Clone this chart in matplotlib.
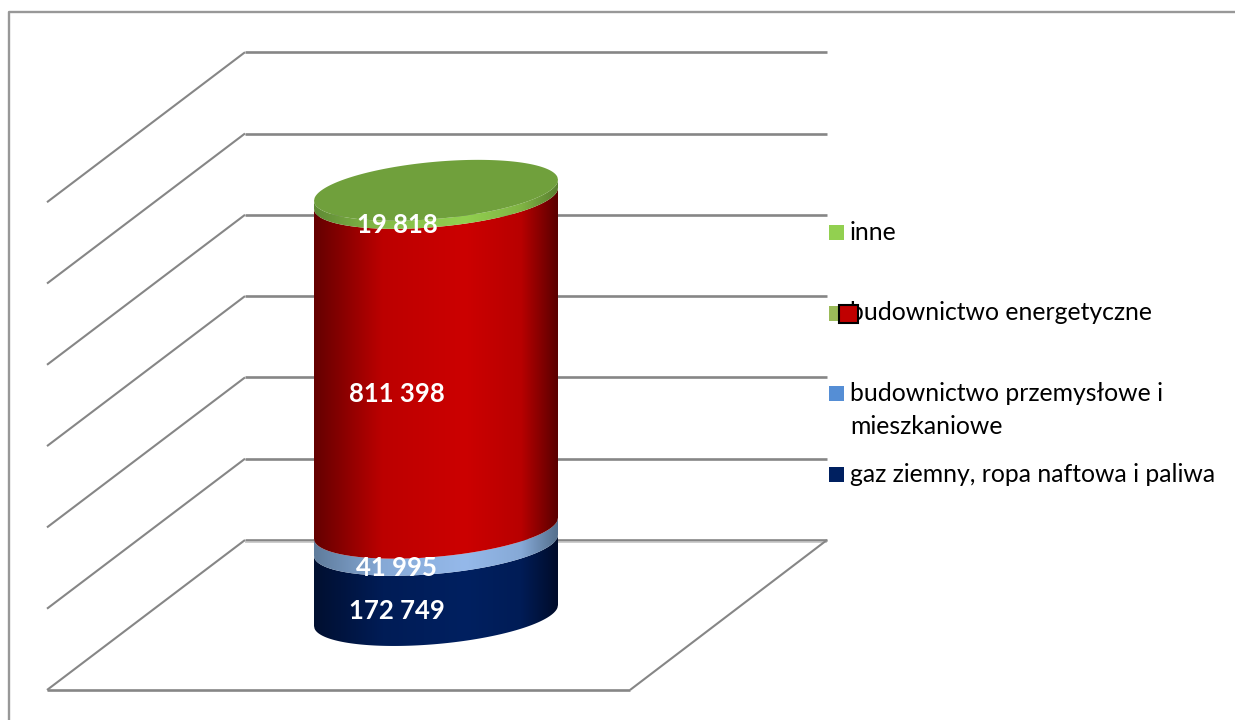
import numpy as np
import matplotlib
matplotlib.use("Agg")
import matplotlib.pyplot as plt
from matplotlib.colors import LinearSegmentedColormap
from matplotlib.patches import Polygon, Rectangle

plt.rcParams["lines.solid_capstyle"] = "butt"

# data
categories = ["gaz ziemny, ropa naftowa i paliwa",
              "budownictwo przemysłowe i\nmieszkaniowe",
              "budownictwo energetyczne",
              "inne"]
values = [172749, 41995, 811398, 19818]
value_labels = ["172 749", "41 995", "811 398", "19 818"]
grid_values = [0, 200000, 400000, 600000, 800000, 1000000, 1200000]

# side shading of each segment, edge -> bright -> edge
side_stops = [0, 0.28, 0.62, 0.85, 1]
side_colors = [["#000f30", "#001c56", "#002060", "#001c56", "#000c2a"],
               ["#5f7c9c", "#86a9d6", "#95b9ea", "#86a9d6", "#55708e"],
               ["#640000", "#bc0000", "#cc0000", "#b80000", "#5a0000"],
               ["#5f8a35", "#86bc48", "#92d050", "#80b444", "#5a8030"]]
legend_colors = ["#002060", "#558ed5", "#9bbb59", "#92d050"]
top_color = "#70a03c"

# layout, in picture pixels
W, H = 1235, 720
PX_PER_VALUE = 81.3 / 200000
CX, A, B, TILT = 436.0, 122.0, 28.6, 10.5
BASE_Y = 615.5
WALL_X0, WALL_X1 = 245, 827
WALL_Y0 = 540
DEPTH_X, DEPTH_Y = 198, 150
LINE = "#868686"


def wall_y(v):
    return WALL_Y0 - v * PX_PER_VALUE


def cyl_y(v):
    return BASE_Y - v * PX_PER_VALUE


def ellipse_arc(xs, center_y, front=True):
    sign = 1 if front else -1
    u = (xs - CX) / A
    return center_y - TILT * u + sign * B * np.sqrt(np.clip(1 - u ** 2, 0, 1))


fig = plt.figure(figsize=(W / 100, H / 100), dpi=100)
ax = fig.add_axes([0, 0, 1, 1])
ax.set_xlim(0, W)
ax.set_ylim(H, 0)
ax.axis("off")

# chart frame, only top and left fall inside the picture
ax.plot([8.5, 8.5, W], [H, 11.5, 11.5], color="#989898", lw=1.7, zorder=1)

# walls and floor
for v in grid_values:
    y = wall_y(v)
    ax.plot([WALL_X0, WALL_X1], [y, y], color=LINE, lw=1.9, zorder=2)
    ax.plot([WALL_X0, WALL_X0 - DEPTH_X], [y, y + DEPTH_Y], color=LINE, lw=1.5, zorder=2)
y0 = wall_y(0)
ax.plot([WALL_X0, WALL_X1], [y0 + 2, y0 + 2], color="#c4c4c4", lw=1.2, zorder=2)
ax.plot([WALL_X0 - DEPTH_X, WALL_X1 - DEPTH_X + 1], [y0 + DEPTH_Y, y0 + DEPTH_Y],
        color=LINE, lw=1.9, zorder=2)
ax.plot([WALL_X1 - DEPTH_X + 1, WALL_X1], [y0 + DEPTH_Y, y0], color=LINE, lw=1.5, zorder=2)

# cylinder, stacked from the values
xs = np.linspace(CX - A, CX + A, 400)
tops = np.cumsum(values)
bottoms = tops - np.array(values)
for v0, v1, cols in zip(bottoms, tops, side_colors):
    cmap = LinearSegmentedColormap.from_list("side", list(zip(side_stops, cols)))
    lower = ellipse_arc(xs, cyl_y(v0))
    upper = ellipse_arc(xs, cyl_y(v1))
    poly = Polygon(np.vstack([np.c_[xs, upper], np.c_[xs[::-1], lower[::-1]]]),
                   closed=True, fc="none", ec="none")
    ax.add_patch(poly)
    grad = np.linspace(0, 1, 256).reshape(1, -1)
    im = ax.imshow(grad, cmap=cmap, aspect="auto", zorder=3,
                   extent=[CX - A, CX + A, H, 0])
    im.set_clip_path(poly)

# top face
top_y = cyl_y(tops[-1])
ax.add_patch(Polygon(np.vstack([np.c_[xs, ellipse_arc(xs, top_y)],
                                np.c_[xs[::-1], ellipse_arc(xs[::-1], top_y, front=False)]]),
                     closed=True, fc=top_color, ec="none", zorder=4))
ax.set_xlim(0, W)
ax.set_ylim(H, 0)

# data labels sit on the front of the cylinder
for v0, v1, txt in zip(bottoms, tops, value_labels):
    ax.text(397, cyl_y((v0 + v1) / 2) + 31, txt, color="white",
            fontsize=18.5, fontweight="bold", family="Lato",
            ha="center", va="center", zorder=6)

# legend
legend_y = [474.5, 393.5, 313.5, 232.5]
text_y = [475, 410, 313, 232]
sq = 15
for name, col, y, ty in zip(categories, legend_colors, legend_y, text_y):
    ax.add_patch(Rectangle((829, y - sq / 2), sq, sq, fc=col, ec="none", zorder=6))
    ax.text(850, ty, name, color="#000000", fontsize=17.8,
            family="Lato", ha="left", va="center", linespacing=1.55, zorder=6)
# leftover selection handle over the legend key
ax.add_patch(Rectangle((838.5, 304.5), 19, 18, fc="#c00000", ec="#000000", lw=1.5, zorder=7))

fig.savefig("out.png", dpi=100)
